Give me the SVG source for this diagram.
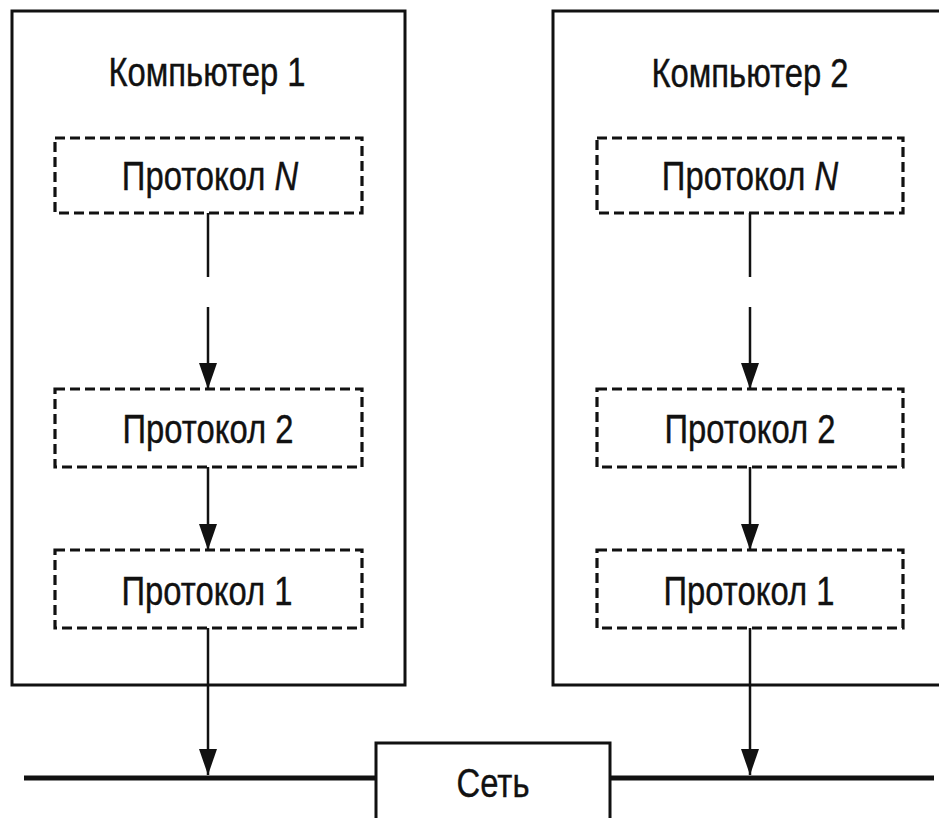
<svg xmlns="http://www.w3.org/2000/svg" width="939" height="818" viewBox="0 0 939 818">
<style>
.comp{fill:#fff;stroke:#111;stroke-width:3}
.proto{fill:#fff;stroke:#111;stroke-width:3.2;stroke-dasharray:10 5}
.lbl{font-family:"Liberation Sans",Arial,sans-serif;font-size:40px;fill:#111;stroke:#111;stroke-width:0.4;text-anchor:middle}
.conn{stroke:#111;stroke-width:2.5;fill:none}
.net{stroke:#111;stroke-width:5}
</style>
<defs>
<marker id="ah" markerWidth="26" markerHeight="18" refX="26" refY="9" orient="auto" markerUnits="userSpaceOnUse" viewBox="0 0 26 18">
<path d="M0,0 L26,9 L0,18 Z" fill="#111"/>
</marker>
</defs>
<rect width="939" height="818" fill="#fff"/>
<g id="computer1">
<rect class="comp" x="12" y="11" width="393" height="674"/>
<text class="lbl" transform="translate(207,86) scale(0.82,1)">Компьютер 1</text>
</g>
<g id="computer2">
<path class="comp" d="M945,11 H553 V685 H945"/>
<text class="lbl" transform="translate(750,87) scale(0.82,1)">Компьютер 2</text>
</g>
<g id="network">
<line class="net" x1="24" y1="778" x2="934" y2="778"/>
<rect class="comp" x="376" y="743" width="234" height="90"/>
<text class="lbl" transform="translate(493,797) scale(0.82,1)">Сеть</text>
</g>
<g id="c1-protoN">
<rect class="proto" x="55" y="138" width="307" height="75"/>
<text class="lbl" transform="translate(210,190) scale(0.82,1)">Протокол <tspan font-style="italic">N</tspan></text>
</g>
<g id="c1-proto2">
<rect class="proto" x="55" y="389" width="307" height="78"/>
<text class="lbl" transform="translate(208,443) scale(0.82,1)">Протокол 2</text>
</g>
<g id="c1-proto1">
<rect class="proto" x="55" y="550" width="307" height="78"/>
<text class="lbl" transform="translate(207,605) scale(0.82,1)">Протокол 1</text>
</g>
<g id="c2-protoN">
<rect class="proto" x="597" y="138" width="306" height="75"/>
<text class="lbl" transform="translate(750,190) scale(0.82,1)">Протокол <tspan font-style="italic">N</tspan></text>
</g>
<g id="c2-proto2">
<rect class="proto" x="597" y="389" width="306" height="78"/>
<text class="lbl" transform="translate(750,443) scale(0.82,1)">Протокол 2</text>
</g>
<g id="c2-proto1">
<rect class="proto" x="597" y="550" width="306" height="78"/>
<text class="lbl" transform="translate(749,605) scale(0.82,1)">Протокол 1</text>
</g>
<g id="connectors">
<line class="conn" x1="208" y1="213" x2="208" y2="277"/>
<line class="conn" x1="208" y1="307" x2="208" y2="389" marker-end="url(#ah)"/>
<line class="conn" x1="208" y1="467" x2="208" y2="550" marker-end="url(#ah)"/>
<line class="conn" x1="208" y1="628" x2="208" y2="775" marker-end="url(#ah)"/>
<line class="conn" x1="750" y1="213" x2="750" y2="277"/>
<line class="conn" x1="750" y1="307" x2="750" y2="389" marker-end="url(#ah)"/>
<line class="conn" x1="750" y1="467" x2="750" y2="550" marker-end="url(#ah)"/>
<line class="conn" x1="750" y1="628" x2="750" y2="775" marker-end="url(#ah)"/>
</g>
</svg>
